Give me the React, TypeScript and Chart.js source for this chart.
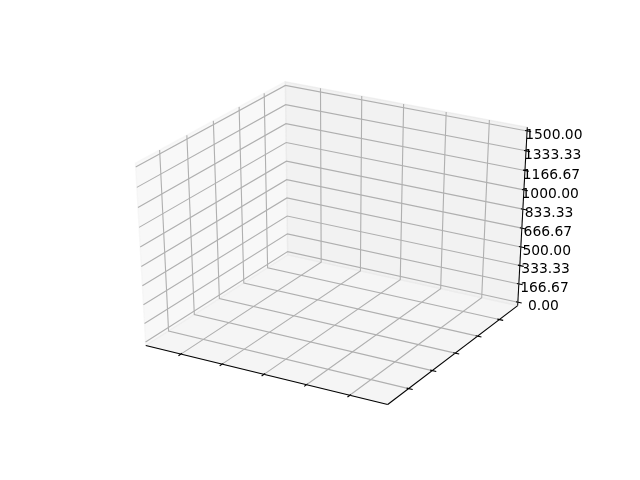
import React, { useEffect, useRef } from 'react';
import { Chart, registerables } from 'chart.js';

Chart.register(...registerables);

// ---------- data ----------
const xLimits = [-0.75, 4.75];
const yLimits = [-0.75, 4.75];
const zLimits = [0, 1500];
const xTicks = [0, 1, 2, 3, 4];
const yTicks = [0, 1, 2, 3, 4];
const zTicks = [0, 166.67, 333.33, 500, 666.67, 833.33, 1000, 1166.67, 1333.33, 1500];
const xTickLabels = ['', '', '', '', ''];
const yTickLabels = ['', '', '', '', ''];
const zTickLabels = ['0.00', '166.67', '333.33', '500.00', '666.67', '833.33', '1000.00', '1166.67', '1333.33', '1500.00'];

// ---------- view / layout settings ----------
const W = 640;
const H = 480;
const ELEV = 30;
const AZIM = -60;
const DIST = 10;
const AX_RECT = [0.125, 0.11, 0.775, 0.77];
const VIEW_LIM = [-0.095, 0.09];
const PT = 100 / 72;
const FONT_PX = 10 * PT;
const PANE_COLORS = ['rgba(242,242,242,0.5)', 'rgba(230,230,230,0.5)', 'rgba(236,236,236,0.5)'];
const GRID_COLOR = '#b0b0b0';

type V3 = number[];

function buildScene() {
  const lims = [xLimits, yLimits, zLimits];
  const ticks = [xTicks, yTicks, zTicks];
  const tickLabels = [xTickLabels, yTickLabels, zTickLabels];
  const mins = lims.map(([a, b]) => a - (b - a) / 48);
  const maxs = lims.map(([a, b]) => b + (b - a) / 48);
  const centers = lims.map(([a, b]) => (a + b) / 2);
  const deltas = lims.map(([a, b]) => (b - a) / 12);

  const el = (ELEV * Math.PI) / 180;
  const az = (AZIM * Math.PI) / 180;
  const R = [0.5, 0.5, 0.5];
  const E = [
    R[0] + Math.cos(az) * Math.cos(el) * DIST,
    R[1] + Math.sin(az) * Math.cos(el) * DIST,
    R[2] + Math.sin(el) * DIST,
  ];
  const norm = (a: V3) => {
    const l = Math.hypot(a[0], a[1], a[2]);
    return [a[0] / l, a[1] / l, a[2] / l];
  };
  const cross = (a: V3, b: V3) => [a[1] * b[2] - a[2] * b[1], a[2] * b[0] - a[0] * b[2], a[0] * b[1] - a[1] * b[0]];
  const dot = (a: V3, b: V3) => a[0] * b[0] + a[1] * b[1] + a[2] * b[2];
  const n = norm([E[0] - R[0], E[1] - R[1], E[2] - R[2]]);
  const u = norm(cross([0, 0, 1], n));
  const v = cross(n, u);

  const proj = (p: V3) => {
    const w = p.map((c, i) => (c - lims[i][0]) / (lims[i][1] - lims[i][0]));
    const d = [w[0] - E[0], w[1] - E[1], w[2] - E[2]];
    const xv = dot(u, d);
    const yv = dot(v, d);
    const zv = dot(n, d);
    return { x: xv / -zv, y: yv / -zv };
  };

  const highs = [0, 1, 2].map((i) => E[i] < R[i]);
  const minmax = [0, 1, 2].map((i) => (highs[i] ? maxs[i] : mins[i]));
  const maxmin = [0, 1, 2].map((i) => (highs[i] ? mins[i] : maxs[i]));
  const flip = (c: V3, i: number) => (c[i] === mins[i] ? maxs[i] : mins[i]);

  const list: any[] = [];
  const line = (pts: V3[], color: string, width: number) => {
    list.push({
      data: pts.map(proj),
      borderColor: color,
      borderWidth: width,
      fill: false,
      pointRadius: 0,
      tension: 0,
    });
  };

  // panes
  for (let i = 0; i < 3; i++) {
    const a = (i + 1) % 3;
    const b = (i + 2) % 3;
    const corners: V3[] = [];
    const combos = [
      [mins[a], mins[b]],
      [maxs[a], mins[b]],
      [maxs[a], maxs[b]],
      [mins[a], maxs[b]],
      [mins[a], mins[b]],
    ];
    for (const [ca, cb] of combos) {
      const p = [0, 0, 0];
      p[i] = minmax[i];
      p[a] = ca;
      p[b] = cb;
      corners.push(p);
    }
    list.push({
      data: corners.map(proj),
      borderColor: PANE_COLORS[i],
      backgroundColor: PANE_COLORS[i],
      borderWidth: 1 * PT,
      fill: 'shape',
      pointRadius: 0,
      tension: 0,
    });
  }

  const juggled = [
    [1, 0, 2],
    [0, 1, 2],
    [0, 2, 1],
  ];
  const tickdirs = [1, 0, 0];
  const ax = AX_RECT[2] * (W / 100) + AX_RECT[3] * (H / 100);
  const deltasPerPoint = 48 / (72 * ax);
  const labels: { x: number; y: number; text: string }[] = [];

  for (let index = 0; index < 3; index++) {
    const j = juggled[index];
    const e1 = minmax.slice();
    e1[j[0]] = flip(e1, j[0]);
    const e2 = e1.slice();
    e2[j[1]] = flip(e2, j[1]);
    // axis line
    line([e1, e2], '#000000', 0.75 * PT);
    // grid lines
    for (const val of ticks[index]) {
      const p1 = minmax.slice();
      p1[index] = val;
      const p0 = p1.slice();
      p0[(index + 1) % 3] = maxmin[(index + 1) % 3];
      const p2 = p1.slice();
      p2[(index + 2) % 3] = maxmin[(index + 2) % 3];
      line([p0, p1, p2], GRID_COLOR, 0.8 * PT);
    }
    // ticks
    const td = tickdirs[index];
    const sign = highs[td] ? 1 : -1;
    const labelDeltas = deltas.map((d) => (3.5 + 8) * deltasPerPoint * d);
    ticks[index].forEach((val, k) => {
      const pa = e1.slice();
      pa[index] = val;
      const pb = pa.slice();
      pa[td] = e1[td] + 0.1 * sign * deltas[td];
      pb[td] = e1[td] - 0.2 * sign * deltas[td];
      line([pa, pb], '#000000', 0.8 * PT);
      const text = tickLabels[index][k];
      if (text) {
        const lp = e1.slice();
        lp[index] = val;
        for (let i = 0; i < 3; i++) {
          if (i === index) continue;
          lp[i] += lp[i] < centers[i] ? -labelDeltas[i] : labelDeltas[i];
        }
        const q = proj(lp);
        labels.push({ x: q.x, y: q.y, text });
      }
    });
  }

  const total = list.length;
  list.forEach((d, i) => (d.order = total - i));
  return { datasets: list, labels };
}

export default function App() {
  const ref = useRef<HTMLCanvasElement | null>(null);

  useEffect(() => {
    if (!ref.current) return;
    const { datasets, labels } = buildScene();
    const axL = AX_RECT[0] * W;
    const axW = AX_RECT[2] * W;
    const axB = AX_RECT[1] * H;
    const axH = AX_RECT[3] * H;
    const span = VIEW_LIM[1] - VIEW_LIM[0];
    const xMin = VIEW_LIM[0] - (axL * span) / axW;
    const xMax = xMin + (W * span) / axW;
    const yMin = VIEW_LIM[0] - (axB * span) / axH;
    const yMax = yMin + (H * span) / axH;

    const labelPlugin = {
      id: 'zTickLabels',
      afterDatasetsDraw(chart: any) {
        const ctx = chart.ctx;
        const sx = chart.scales.x;
        const sy = chart.scales.y;
        ctx.save();
        ctx.font = `${FONT_PX}px "DejaVu Sans"`;
        ctx.fillStyle = '#000000';
        ctx.textAlign = 'center';
        ctx.textBaseline = 'alphabetic';
        for (const l of labels) {
          const px = sx.getPixelForValue(l.x);
          const py = sy.getPixelForValue(l.y);
          ctx.fillText(l.text, px, py + 0.76 * FONT_PX);
        }
        ctx.restore();
      },
    };

    const chart = new Chart(ref.current, {
      type: 'line',
      data: { datasets },
      options: {
        responsive: false,
        animation: false,
        devicePixelRatio: 1,
        events: [],
        layout: { padding: 0 },
        plugins: { legend: { display: false }, tooltip: { enabled: false } },
        elements: { point: { radius: 0 } },
        scales: {
          x: { type: 'linear', display: false, min: xMin, max: xMax, bounds: 'data' },
          y: { type: 'linear', display: false, min: yMin, max: yMax, bounds: 'data' },
        },
      },
      plugins: [labelPlugin],
    } as any);
    return () => chart.destroy();
  }, []);

  return (
    <div style={{ position: 'fixed', left: 0, top: 0, width: W, height: H, background: '#ffffff' }}>
      <canvas ref={ref} width={W} height={H} style={{ width: W, height: H, display: 'block' }} />
    </div>
  );
}
